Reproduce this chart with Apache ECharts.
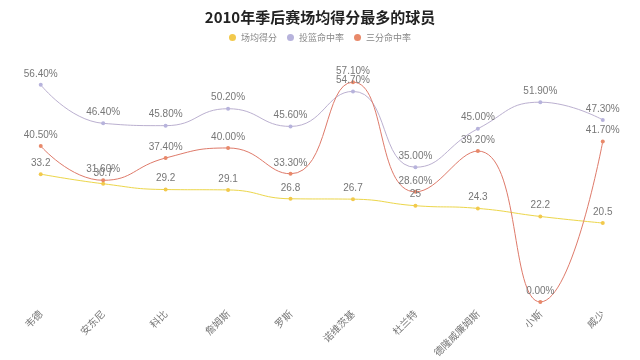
<!DOCTYPE html>
<html><head><meta charset="utf-8">
<script src="https://cdn.jsdelivr.net/npm/echarts@6/dist/echarts.min.js"></script>
<style>html,body{margin:0;padding:0;background:#fff}#c{width:640px;height:360px}</style>
</head><body><div id="c"></div>
<script>
const players = ['韦德','安东尼','科比','詹姆斯','罗斯','诺维茨基','杜兰特','德隆威廉姆斯','小斯','威少'];
const ppg = [33.2, 30.7, 29.2, 29.1, 26.8, 26.7, 25, 24.3, 22.2, 20.5];
const fgPct = [56.4, 46.4, 45.8, 50.2, 45.6, 54.7, 35.0, 45.0, 51.9, 47.3];
const threePct = [40.5, 31.6, 37.4, 40.0, 33.3, 57.1, 28.6, 39.2, 0.0, 41.7];
const seriesNames = ['场均得分','投篮命中率','三分命中率'];
const colors = ['#f2c94c','#b7b3dc','#e8896a'];
const lineColors = ['#ecd64a','#bbb0d0','#de7a6a'];

const chart = echarts.init(document.getElementById('c'));
const pctFmt = p => p.value.toFixed(2) + '%';
function mk(i, data, fmt) {
  return {
    name: seriesNames[i], type: 'line', smooth: true, data: data,
    symbol: 'circle', symbolSize: 4,
    itemStyle: { color: colors[i] },
    lineStyle: { color: lineColors[i], width: 1 },
    label: { show: true, position: 'top', color: '#777', fontSize: 10, distance: 4,
      formatter: fmt || (p => String(p.value)) }
  };
}
chart.setOption({
  animation: false,
  backgroundColor: '#fff',
  title: { text: '2010年季后赛场均得分最多的球员', left: 'center', top: 5,
    textStyle: { fontSize: 15, fontWeight: 'bold', color: '#222', fontFamily: 'Noto Sans CJK SC' } },
  legend: { top: 28, left: 'center', itemWidth: 7, itemHeight: 7, itemGap: 10, icon: 'circle',
    textStyle: { fontSize: 9, color: '#888', fontFamily: 'Noto Sans CJK SC' },
    data: seriesNames },
  grid: { left: 9.5, right: 6, top: 71, bottom: 51 },
  xAxis: { type: 'category', data: players, boundaryGap: true,
    axisLine: { show: false }, axisTick: { show: false },
    axisLabel: { rotate: 45, color: '#777', fontSize: 10, margin: 10, interval: 0,
      fontFamily: 'Noto Sans CJK SC' } },
  yAxis: { type: 'value', min: 0, max: 60, show: false, splitLine: { show: false } },
  series: [ mk(0, ppg), mk(1, fgPct, pctFmt), mk(2, threePct, pctFmt) ]
});
</script></body></html>
